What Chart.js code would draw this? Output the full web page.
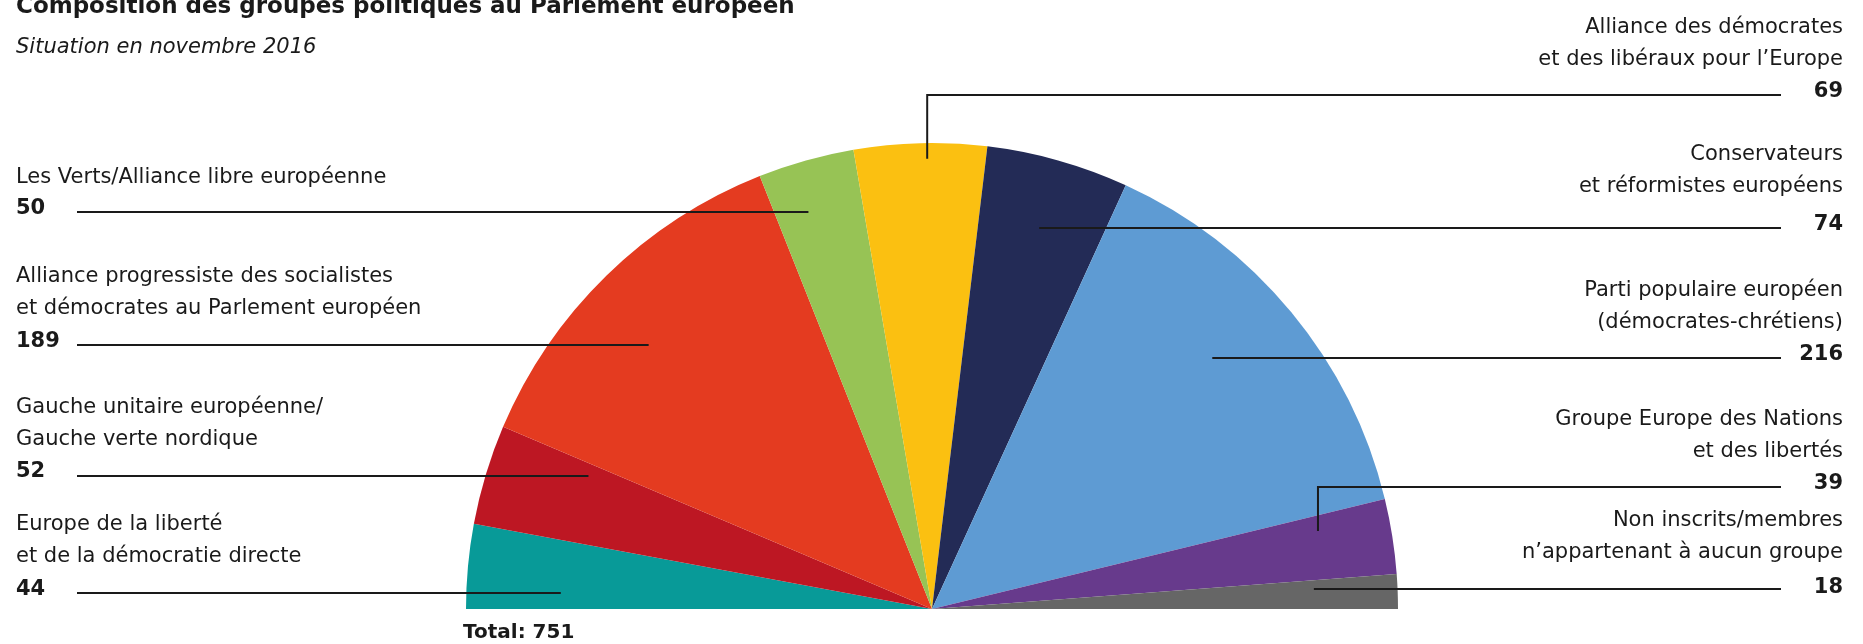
<!DOCTYPE html>
<html lang="fr">
<head>
<meta charset="utf-8">
<title>Composition des groupes politiques au Parlement européen</title>
<script src="https://cdn.jsdelivr.net/npm/chart.js@4.4.1/dist/chart.umd.min.js"></script>
<style>
  html, body { margin: 0; padding: 0; background: #fff; }
  #cadre { width: 1863px; height: 644px; }
</style>
</head>
<body>
<div id="cadre"><canvas id="graphique" width="1863" height="644"></canvas></div>
<script>
// données : situation en novembre 2016, de gauche à droite dans l'hémicycle
const groupes = [
  'Europe de la liberté et de la démocratie directe',
  'Gauche unitaire européenne/Gauche verte nordique',
  'Alliance progressiste des socialistes et démocrates au Parlement européen',
  'Les Verts/Alliance libre européenne',
  'Alliance des démocrates et des libéraux pour l’Europe',
  'Conservateurs et réformistes européens',
  'Parti populaire européen (démocrates-chrétiens)',
  'Groupe Europe des Nations et des libertés',
  'Non inscrits/membres n’appartenant à aucun groupe'
];
const sieges = [44, 52, 189, 50, 69, 74, 216, 39, 18];
const couleurs = ['#089a98', '#bd1723', '#e43b20', '#97c355', '#fbc011', '#232b56', '#5e9bd3', '#673a8c', '#666666'];

// texte des étiquettes, coupé comme sur l'original
const libelles = [
  ['Europe de la liberté', 'et de la démocratie directe'],
  ['Gauche unitaire européenne/', 'Gauche verte nordique'],
  ['Alliance progressiste des socialistes', 'et démocrates au Parlement européen'],
  ['Les Verts/Alliance libre européenne'],
  ['Alliance des démocrates', 'et des libéraux pour l’Europe'],
  ['Conservateurs', 'et réformistes européens'],
  ['Parti populaire européen', '(démocrates-chrétiens)'],
  ['Groupe Europe des Nations', 'et des libertés'],
  ['Non inscrits/membres', 'n’appartenant à aucun groupe']
];

const titre = 'Composition des groupes politiques au Parlement européen';
const sousTitre = 'Situation en novembre 2016';

// placement : côté, hauteur du trait, ligne de base du nombre, écart au texte,
// ancrage dans la part (k = fraction du rayon, t = fraction de l'angle)
const etiquettes = [
  { cote: 'g', ligne: 593, nombre: 595, ecart: 33, k: 0.80 },
  { cote: 'g', ligne: 476, nombre: 477, ecart: 32, k: 0.77 },
  { cote: 'g', ligne: 345, nombre: 347, ecart: 33, k: 0.87 },
  { cote: 'g', ligne: 212, nombre: 214, ecart: 31, k: 0.98 },
  { cote: 'd', ligne: 95,  nombre: 97,  ecart: 32, k: 0.966, t: 0.55, coude: true },
  { cote: 'd', ligne: 228, nombre: 230, ecart: 38, k: 0.85 },
  { cote: 'd', ligne: 358, nombre: 360, ecart: 32, k: 0.78 },
  { cote: 'd', ligne: 487, nombre: 489, ecart: 32, k: 0.845, t: 0.24, coude: true },
  { cote: 'd', ligne: 589, nombre: 593, ecart: 35, k: 0.82 }
];

const POLICE = '"DejaVu Sans", sans-serif';
const ENCRE = '#1a1a1a';

const pluginEtiquettes = {
  id: 'etiquettes',
  afterDatasetsDraw(chart) {
    const ctx = chart.ctx;
    const arcs = chart.getDatasetMeta(0).data;
    ctx.save();
    ctx.fillStyle = ENCRE;
    ctx.strokeStyle = ENCRE;
    ctx.lineWidth = 2;
    ctx.textBaseline = 'alphabetic';

    // titre (coupé en haut comme sur l'original)
    ctx.textAlign = 'left';
    ctx.font = 'bold 23px ' + POLICE;
    ctx.fillText(titre, 16, 13);
    ctx.font = 'italic 21px ' + POLICE;
    ctx.fillText(sousTitre, 16, 53);

    etiquettes.forEach((e, i) => {
      const arc = arcs[i];
      const a = arc.startAngle + (e.t ?? 0.5) * (arc.endAngle - arc.startAngle);
      const r = e.k * arc.outerRadius;
      const px = arc.x + r * Math.cos(a);
      const py = arc.y + r * Math.sin(a);
      const gauche = e.cote === 'g';
      const xTexte = gauche ? 16 : 1843;
      const xBord = gauche ? 77 : 1781;

      // trait de rappel
      ctx.beginPath();
      if (e.coude) {
        ctx.moveTo(px, py);
        ctx.lineTo(px, e.ligne);
      } else {
        ctx.moveTo(px, e.ligne);
      }
      ctx.lineTo(xBord, e.ligne);
      ctx.stroke();

      ctx.textAlign = gauche ? 'left' : 'right';
      ctx.font = 'bold 21px ' + POLICE;
      ctx.fillText(String(sieges[i]), xTexte, e.nombre);
      ctx.font = '21px ' + POLICE;
      const lignes = libelles[i];
      lignes.forEach((txt, j) => {
        ctx.fillText(txt, xTexte, e.nombre - e.ecart - 32 * (lignes.length - 1 - j));
      });
    });

    // total sous l'hémicycle
    const total = sieges.reduce((s, v) => s + v, 0);
    ctx.textAlign = 'left';
    ctx.font = 'bold 20px ' + POLICE;
    ctx.fillText('Total: ' + total, 463, 638);
    ctx.restore();
  }
};

new Chart(document.getElementById('graphique'), {
  type: 'pie',
  data: {
    labels: groupes,
    datasets: [{ data: sieges, backgroundColor: couleurs, borderWidth: 0 }]
  },
  options: {
    responsive: false,
    animation: false,
    rotation: -90,
    circumference: 180,
    layout: { padding: { left: 466, right: 465, top: 143, bottom: 35 } },
    plugins: { legend: { display: false }, tooltip: { enabled: false } }
  },
  plugins: [pluginEtiquettes]
});
</script>
</body>
</html>
